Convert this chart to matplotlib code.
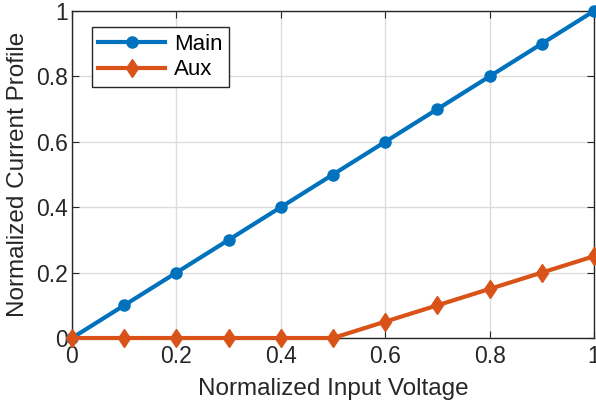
import matplotlib
matplotlib.use("Agg")
import matplotlib.pyplot as plt

plt.rcParams['font.family'] = ['Liberation Sans', 'DejaVu Sans']

voltage = [0, 0.1, 0.2, 0.3, 0.4, 0.5, 0.6, 0.7, 0.8, 0.9, 1.0]
main_current = [0, 0.1, 0.2, 0.3, 0.4, 0.5, 0.6, 0.7, 0.8, 0.9, 1.0]
aux_current = [0, 0, 0, 0, 0, 0, 0.05, 0.1, 0.15, 0.2, 0.25]

fig = plt.figure(figsize=(5.96, 4.05), dpi=100)
ax = fig.add_axes([0.1208, 0.1654, 0.8758, 0.8074])

ax.plot(voltage, main_current, "-o", c="#0072BD", lw=3, ms=8, label="Main", clip_on=False, zorder=3)
ax.plot(voltage, aux_current, "-d", c="#D95319", lw=3, ms=9.5, label="Aux", clip_on=False, zorder=3)

ax.set_xlim(0, 1)
ax.set_ylim(0, 1)
ax.set_xticks([0, 0.2, 0.4, 0.6, 0.8, 1])
ax.set_xticklabels(["0", "0.2", "0.4", "0.6", "0.8", "1"])
ax.set_yticks([0, 0.2, 0.4, 0.6, 0.8, 1])
ax.set_yticklabels(["0", "0.2", "0.4", "0.6", "0.8", "1"])
ax.tick_params(direction="in", top=True, right=True, labelsize=16.5, length=5, color="#262626", labelcolor="#262626")
ax.tick_params(axis="x", pad=5)
ax.tick_params(axis="y", pad=3)
ax.grid(True, color="#dcdcdc", lw=1)
ax.set_axisbelow(True)
for s in ax.spines.values():
    s.set_color("#262626")
    s.set_linewidth(1)

ax.set_xlabel("Normalized Input Voltage", fontsize=17.5, color="#262626", labelpad=7)
ax.set_ylabel("Normalized Current Profile", fontsize=17.5, color="#262626", labelpad=5)

leg = ax.legend(loc="upper left", bbox_to_anchor=(0.038, 0.95), fontsize=16, fancybox=False,
                edgecolor="#262626", framealpha=1, handlelength=3.0, handletextpad=0.4,
                borderpad=0.3, labelspacing=0.2, borderaxespad=0)
leg.get_frame().set_linewidth(1)

fig.savefig("out.png", dpi=100)
